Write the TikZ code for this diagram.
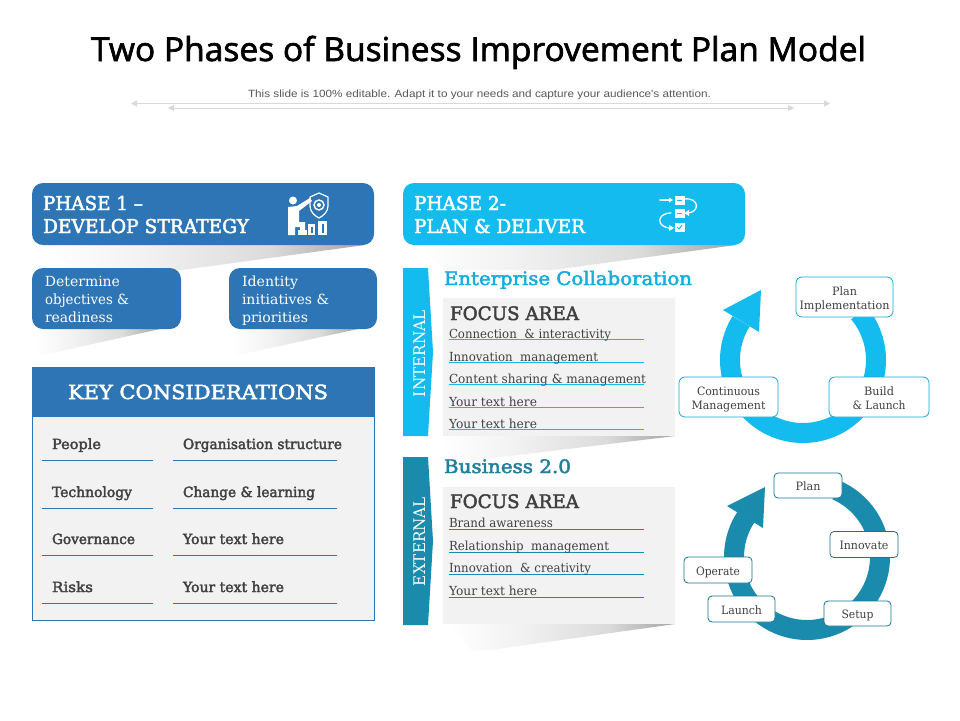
\documentclass[tikz,border=0pt]{standalone}
\usepackage{fontspec}
\usepackage{graphicx}
\usetikzlibrary{arrows.meta}
\setmainfont{DejaVu Serif}
\newfontfamily\hdfont{DejaVu Serif}[FakeBold=2.5]
\newfontfamily\ttlfont{Open Sans}[FakeBold=2]
\newfontfamily\subfont{Liberation Sans}
\definecolor{phaseone}{HTML}{2E75B6}
\definecolor{phasetwo}{HTML}{14BBEE}
\definecolor{tealdark}{HTML}{1A8BAC}
\definecolor{panel}{HTML}{F2F2F2}
\definecolor{ink}{HTML}{404040}
\definecolor{rulegray}{HTML}{D9D9D9}
\pgfdeclarehorizontalshading{softfade}{100bp}{color(0bp)=(white); color(25bp)=(white); color(40bp)=(black!5); color(60bp)=(black!14); color(75bp)=(black!36); color(100bp)=(black!36)}
\newsavebox{\fitbox}
\newcommand{\fitw}[2]{\sbox{\fitbox}{#2}\edef\fitratio{\fpeval{#1pt/\wd\fitbox}}\scalebox{\fitratio}[1]{\usebox{\fitbox}}}
\newcommand{\fsz}[1]{\fontsize{#1}{#1}\selectfont}
\newcommand{\stepl}[2]{\raisebox{0pt}[10pt][0pt]{\fitw{#1}{#2}}}
\tikzset{
  lab/.style={anchor=base west,inner sep=0pt,outer sep=0pt},
  bluebox/.style={fill=phaseone,rounded corners=11pt},
  cyanbox/.style={fill=phasetwo,rounded corners=11pt},
  softshadow/.style={shading=softfade,draw=none},
  rulea/.style={line width=0.8pt,color=phaseone},
  ruleb/.style={line width=0.8pt,color=phasetwo},
  rulec/.style={line width=0.8pt,color=tealdark},
  stepcy/.style={draw=phasetwo!60!tealdark,line width=0.8pt,fill=white,rounded corners=6pt,align=center,inner sep=0pt,text=ink,font=\fontsize{11.5}{14}\selectfont},
  steptl/.style={draw=tealdark!85!black,line width=0.8pt,fill=white,rounded corners=4pt,align=center,inner sep=0pt,text=ink,font=\fontsize{11.5}{14}\selectfont},
  sep/.style={draw=rulegray,line width=1pt,{Triangle[width=6pt,length=6pt]}-{Triangle[width=6pt,length=6pt]}},
  icon/.style={draw=white,line width=1.3pt,line cap=round,line join=round},
}
\begin{document}
\begin{tikzpicture}[x=1pt,y=-1pt]
\useasboundingbox (0,0) rectangle (960,720);
\fill[white] (0,0) rectangle (960,720);
% title
\node[lab,text=black] (title) at (91,61) {\fitw{775}{\ttlfont\fsz{33}Two Phases of Business Improvement Plan Model}};
\node[lab,text=black!65] (subtitle) at (248,97) {\fitw{463}{\subfont\fsz{10.5}This slide is 100\% editable. Adapt it to your needs and capture your audience's attention.}};
\coordinate (s1a) at (131,103.5); \coordinate (s1b) at (830,103.5);
\coordinate (s2a) at (168,108); \coordinate (s2b) at (794,108);
\draw[sep] (s1a) -- (s1b);
\draw[sep] (s2a) -- (s2b);
% shadows
\shade[softshadow] (45,245) -- (365,245) -- (182,270) -- (75,270) -- cycle;
\shade[softshadow] (416,245) -- (736,245) -- (553,270) -- (446,270) -- cycle;
\shade[softshadow] (35,329) -- (160,329) -- (43,355) -- (35,355) -- cycle;
\shade[softshadow] (232,329) -- (358,329) -- (238,355) -- (232,355) -- cycle;
\shade[softshadow] (443,436) -- (675,436) -- (477,460) -- (450,460) -- cycle;
\shade[softshadow] (450,624) -- (675,624) -- (490,650) -- (470,650) -- cycle;
% phase 1
\fill[bluebox] (32,183) rectangle (374,245);
\node[lab,text=white] (p1a) at (43,210) {\fitw{100}{\hdfont\fsz{19}PHASE 1 –}};
\node[lab,text=white] (p1b) at (43,233) {\fitw{206}{\hdfont\fsz{19}DEVELOP STRATEGY}};
% person icon
\fill[white] (293,200.5) circle (4);
\fill[white] (288,207) -- (297,206) -- (310,198) -- (312,201) -- (299,211) -- (299,222) -- (305,222) -- (305,230) -- (300,230) -- (300,227) -- (295,227) -- (295,235) -- (288,235) -- cycle;
\draw[white,line width=1.2pt,line join=round] (319,193) -- (328,197) -- (328,206) .. controls (328,212) and (323,216) .. (319,218) .. controls (315,216) and (310,212) .. (310,206) -- (310,197) -- cycle;
\draw[white,line width=1.4pt] (319,205) circle (5);
\fill[white] (319,205) circle (2);
\fill[white] (298,230) rectangle (307,235);
\fill[white] (308,224) rectangle (315,235);
\fill[white] (318,221) rectangle (327,235);
\fill[phaseone] (310.5,227) rectangle (312.5,233);
\fill[phaseone] (321.5,224) rectangle (323.5,233);
% small boxes
\fill[bluebox] (32,268) rectangle (181,329);
\fill[bluebox] (229,268) rectangle (377,329);
\node[lab,text=white] (d1) at (45,286) {\fitw{75}{\fsz{14}Determine}};
\node[lab,text=white] (d2) at (45,304) {\fitw{84}{\fsz{14}objectives \&}};
\node[lab,text=white] (d3) at (45,322) {\fitw{68}{\fsz{14}readiness}};
\node[lab,text=white] (i1) at (242,286) {\fitw{56}{\fsz{14}Identity}};
\node[lab,text=white] (i2) at (242,304) {\fitw{87}{\fsz{14}initiatives \&}};
\node[lab,text=white] (i3) at (242,322) {\fitw{66}{\fsz{14}priorities}};
% key considerations
\fill[panel] (32,417) rectangle (374,620);
\draw[phaseone,line width=0.9pt] (32,367) rectangle (374,620);
\fill[phaseone] (32,367) rectangle (374,417);
\node[lab,text=white] (kc) at (68,399) {\fitw{260}{\hdfont\fsz{19.5}KEY CONSIDERATIONS}};
\foreach \ya in {460,508,555,603}{
  \draw[rulea] (42,\ya) -- (153,\ya);
  \draw[rulea] (173,\ya) -- (337,\ya);
}
\node[lab,text=ink] (k1) at (52,449) {\fitw{49}{\hdfont\fsz{14}People}};
\node[lab,text=ink] (k2) at (52,497) {\fitw{80}{\hdfont\fsz{14}Technology}};
\node[lab,text=ink] (k3) at (52,544) {\fitw{83}{\hdfont\fsz{14}Governance}};
\node[lab,text=ink] (k4) at (52,592) {\fitw{41}{\hdfont\fsz{14}Risks}};
\node[lab,text=ink] (k5) at (183,449) {\fitw{159}{\hdfont\fsz{14}Organisation structure}};
\node[lab,text=ink] (k6) at (183,497) {\fitw{132}{\hdfont\fsz{14}Change \& learning}};
\node[lab,text=ink] (k7) at (183,544) {\fitw{101}{\hdfont\fsz{14}Your text here}};
\node[lab,text=ink] (k8) at (183,592) {\fitw{101}{\hdfont\fsz{14}Your text here}};
% phase 2
\fill[cyanbox] (403,183) rectangle (745,245);
\node[lab,text=white] (p2a) at (414,210) {\fitw{92}{\hdfont\fsz{19}PHASE 2-}};
\node[lab,text=white] (p2b) at (414,233) {\fitw{171}{\hdfont\fsz{19}PLAN \& DELIVER}};
% flow icon
\draw[icon] (660,200) -- (669,200);
\fill[white] (669,197.5) -- (673,200) -- (669,202.5) -- cycle;
\draw[icon] (684,199) .. controls (700,197) and (700,213) .. (687,213);
\fill[white] (684,213) -- (689,210) -- (689,216) -- cycle;
\draw[icon] (671,213) .. controls (656,213) and (656,228) .. (671,228);
\fill[white] (674,228) -- (669,225) -- (669,231) -- cycle;
\fill[white] (674.5,195.5) rectangle (684.5,204.5);
\fill[white] (674.5,208.5) rectangle (684.5,217.5);
\fill[white] (674.5,222.5) rectangle (684.5,231.5);
\draw[phasetwo,line width=1pt] (677,200) -- (682,200);
\draw[phasetwo,line width=1pt] (677,213) -- (682,213);
\draw[phasetwo,line width=1pt] (677,227) -- (679,229) -- (682,225);
% internal
\fill[phasetwo] (403,268) -- (428,268) -- (433,352) -- (428,436) -- (403,436) -- cycle;
\node[lab,rotate=90,text=white] (intl) at (425,397) {\fitw{87}{\fsz{16}INTERNAL}};
\node[lab,text=phasetwo!70!tealdark] (ent) at (444,285) {\fitw{248}{\hdfont\fsz{18.5}Enterprise Collaboration}};
\fill[panel] (443,298) rectangle (675,436);
\node[lab,text=ink] (fa1) at (450,320) {\fitw{129}{\hdfont\fsz{18.5}FOCUS AREA}};
\foreach \yc in {339,362,384,407,429}{ \draw[ruleb] (449,\yc) -- (644,\yc); }
\node[lab,text=ink] (l1) at (449,338) {\fitw{162}{\fsz{12.5}Connection \ \& interactivity}};
\node[lab,text=ink] (l2) at (449,361) {\fitw{149}{\fsz{12.5}Innovation \ management}};
\node[lab,text=ink] (l3) at (449,383) {\fitw{197}{\fsz{12.5}Content sharing \& management}};
\node[lab,text=ink] (l4) at (449,406) {\fitw{88}{\fsz{12.5}Your text here}};
\node[lab,text=ink] (l5) at (449,428) {\fitw{88}{\fsz{12.5}Your text here}};
% external
\fill[tealdark] (403,457) -- (428,457) -- (433,541) -- (428,625) -- (403,625) -- cycle;
\node[lab,rotate=90,text=white] (extl) at (425,586) {\fitw{89}{\fsz{16}EXTERNAL}};
\node[lab,text=tealdark!85!ink] (bus) at (444,473) {\fitw{127}{\hdfont\fsz{18.5}Business 2.0}};
\fill[panel] (443,487) rectangle (675,624);
\node[lab,text=ink] (fa2) at (450,508) {\fitw{129}{\hdfont\fsz{18.5}FOCUS AREA}};
\foreach \yd in {529,552,574,597}{ \draw[rulec] (449,\yd) -- (644,\yd); }
\node[lab,text=ink] (m1) at (449,527) {\fitw{104}{\fsz{12.5}Brand awareness}};
\node[lab,text=ink] (m2) at (449,550) {\fitw{160}{\fsz{12.5}Relationship \ management}};
\node[lab,text=ink] (m3) at (449,572) {\fitw{142}{\fsz{12.5}Innovation \ \& creativity}};
\node[lab,text=ink] (m4) at (449,595) {\fitw{88}{\fsz{12.5}Your text here}};
% cycle 1
\draw[line width=20pt,phasetwo] plot[smooth,samples=70,domain=-40:212] ({803+73*cos(\x)},{360+73*sin(\x)});
\fill[phasetwo] (761,290) -- (723,310) -- (759,332) -- cycle;
\node[stepcy,minimum width=97pt,minimum height=40pt] (c1) at (844.5,297) {\stepl{25}{Plan}\\\stepl{90}{Implementation}};
\node[stepcy,minimum width=100pt,minimum height=40pt] (c2) at (879,397) {\stepl{30}{Build}\\\stepl{53}{\& Launch}};
\node[stepcy,minimum width=99pt,minimum height=40pt] (c3) at (728.5,397) {\stepl{63}{Continuous}\\\stepl{74}{Management}};
% cycle 2
\draw[line width=20pt,tealdark] plot[smooth,samples=70,domain=-66:213] ({807+73*cos(\x)},{557+73*sin(\x)});
\fill[tealdark] (765,487) -- (727,506) -- (763,528) -- cycle;
\node[steptl,minimum width=68pt,minimum height=25pt] (t1) at (808,485.5) {\stepl{25}{Plan}};
\node[steptl,minimum width=68pt,minimum height=26pt] (t2) at (864,544.5) {\stepl{49}{Innovate}};
\node[steptl,minimum width=67pt,minimum height=25pt] (t3) at (857.5,613.5) {\stepl{32}{Setup}};
\node[steptl,minimum width=67pt,minimum height=26pt] (t4) at (741.5,609) {\stepl{41}{Launch}};
\node[steptl,minimum width=68pt,minimum height=26pt] (t5) at (718,570) {\stepl{44}{Operate}};
\end{tikzpicture}
\end{document}
